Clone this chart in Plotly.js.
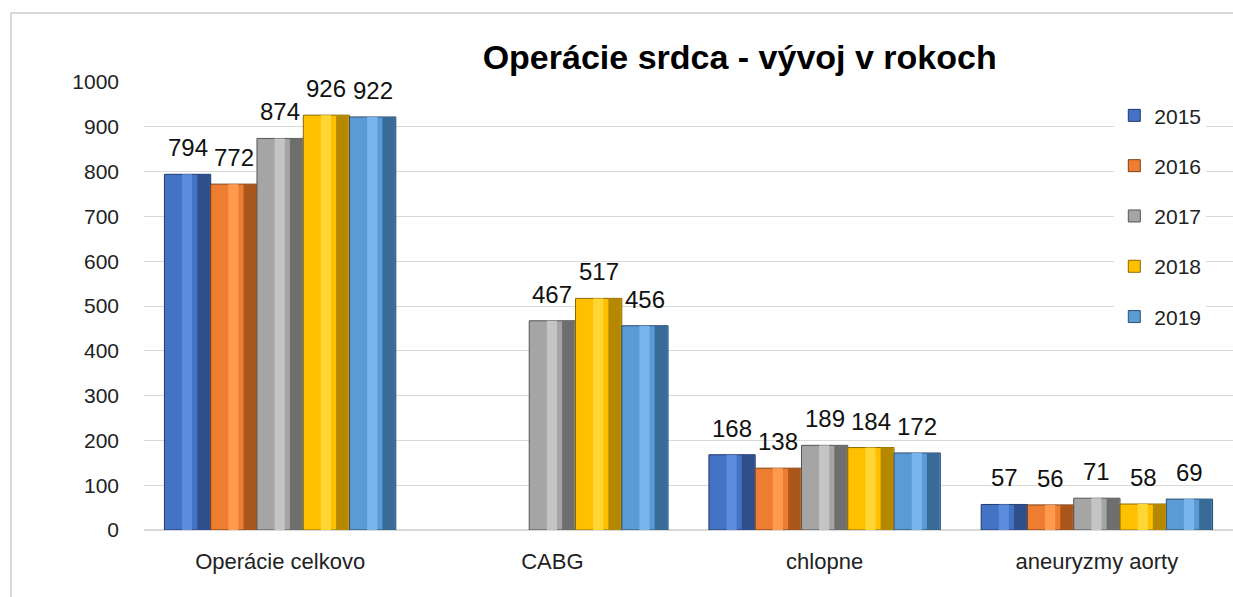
<!DOCTYPE html>
<html>
<head>
<meta charset="utf-8">
<script src="https://cdn.plot.ly/plotly-3.0.1.min.js"></script>
<style>html,body{margin:0;padding:0;background:#fff;}#chart{width:1233px;height:597px;}</style>
</head>
<body>
<div id="chart"></div>
<script>
const categories = ["Operácie celkovo", "CABG", "chlopne", "aneuryzmy aorty"];
const years = ["2015", "2016", "2017", "2018", "2019"];
const v2015 = [794, null, 168, 57];
const v2016 = [772, null, 138, 56];
const v2017 = [874, 467, 189, 71];
const v2018 = [926, 517, 184, 58];
const v2019 = [922, 456, 172, 69];
const yTicks = [0, 100, 200, 300, 400, 500, 600, 700, 800, 900, 1000];

const seriesValues = [v2015, v2016, v2017, v2018, v2019];
const colors = ["#4472C4", "#ED7D31", "#A5A5A5", "#FFC000", "#5B9BD5"];
const lights = ["#5B8BDC", "#FF9A4F", "#C4C4C4", "#FFD633", "#79B4EC"];
const shades = ["#2E4F8C", "#A9561C", "#6E6E6E", "#B58800", "#3A6A96"];
const edges = ["#22396A", "#7E3F14", "#555555", "#8A6700", "#2B4F70"];

const FONT = "Liberation Sans, Arial, sans-serif";
const groupWidth = 0.85;
const w = groupWidth / seriesValues.length;

const mainTraces = seriesValues.map((vals, i) => ({
  type: "bar",
  name: years[i],
  x: categories,
  y: vals,
  width: w,
  offset: -groupWidth / 2 + i * w,
  marker: {color: colors[i], line: {color: edges[i], width: 1}},
  legendgroup: "g" + i,
  hoverinfo: "x+y+name"
}));

const lightTraces = seriesValues.map((vals, i) => ({
  type: "bar",
  name: years[i],
  x: categories,
  y: vals,
  width: w * 0.22,
  offset: -groupWidth / 2 + i * w + w * 0.38,
  marker: {color: lights[i], line: {width: 0}},
  showlegend: false,
  legendgroup: "g" + i,
  hoverinfo: "skip"
}));

const shadeTraces = seriesValues.map((vals, i) => ({
  type: "bar",
  name: years[i],
  x: categories,
  y: vals,
  width: w * 0.27,
  offset: -groupWidth / 2 + i * w + w * 0.71,
  marker: {color: shades[i], line: {width: 0}},
  showlegend: false,
  legendgroup: "g" + i,
  hoverinfo: "skip"
}));

const labelAnnotations = [];
seriesValues.forEach((vals, i) => {
  vals.forEach((v, j) => {
    if (v == null) return;
    labelAnnotations.push({
      x: j - groupWidth / 2 + i * w + w / 2,
      y: v,
      xref: "x", yref: "y",
      text: String(v),
      showarrow: false,
      yanchor: "bottom",
      yshift: 11,
      font: {family: FONT, size: 24, color: "#111"}
    });
  });
});

const layout = {
  width: 1233,
  height: 597,
  margin: {l: 144, r: 0, t: 82, b: 67},
  paper_bgcolor: "#ffffff",
  plot_bgcolor: "#ffffff",
  barmode: "overlay",
  title: {
    text: "<b>Operácie srdca - vývoj v rokoch</b>",
    font: {family: FONT, size: 34, color: "#000"},
    x: 0.547, xanchor: "center",
    y: 0.905, yanchor: "middle",
    xref: "paper"
  },
  xaxis: {
    type: "category",
    tickfont: {family: FONT, size: 22, color: "#222"},
    showgrid: false,
    showline: false,
    ticks: "",
    ticklabelstandoff: 16
  },
  yaxis: {
    range: [0, 1000],
    tickvals: yTicks,
    ticktext: yTicks.map(String),
    tickfont: {family: FONT, size: 21, color: "#222"},
    showgrid: true,
    gridcolor: "#d9d9d9",
    gridwidth: 1,
    zeroline: true,
    zerolinecolor: "#d9d9d9",
    zerolinewidth: 2,
    showline: false,
    ticks: "",
    ticklabelstandoff: 24
  },
  legend: {
    x: 0.891, xanchor: "left",
    y: 0.9705, yanchor: "top",
    bgcolor: "#ffffff",
    borderwidth: 0,
    traceorder: "grouped",
    tracegroupgap: 20,
    font: {family: FONT, size: 21, color: "#222"}
  },
  annotations: labelAnnotations,
  shapes: [{
    type: "rect", xref: "paper", yref: "paper",
    x0: -0.1221, x1: 1.02, y0: -0.2, y1: 1.154,
    line: {color: "#d9d9d9", width: 2}, fillcolor: "rgba(0,0,0,0)", layer: "below"
  }],
  showlegend: true
};

Plotly.newPlot("chart", mainTraces.concat(lightTraces, shadeTraces), layout, {displayModeBar: false, staticPlot: true});
</script>
</body>
</html>
